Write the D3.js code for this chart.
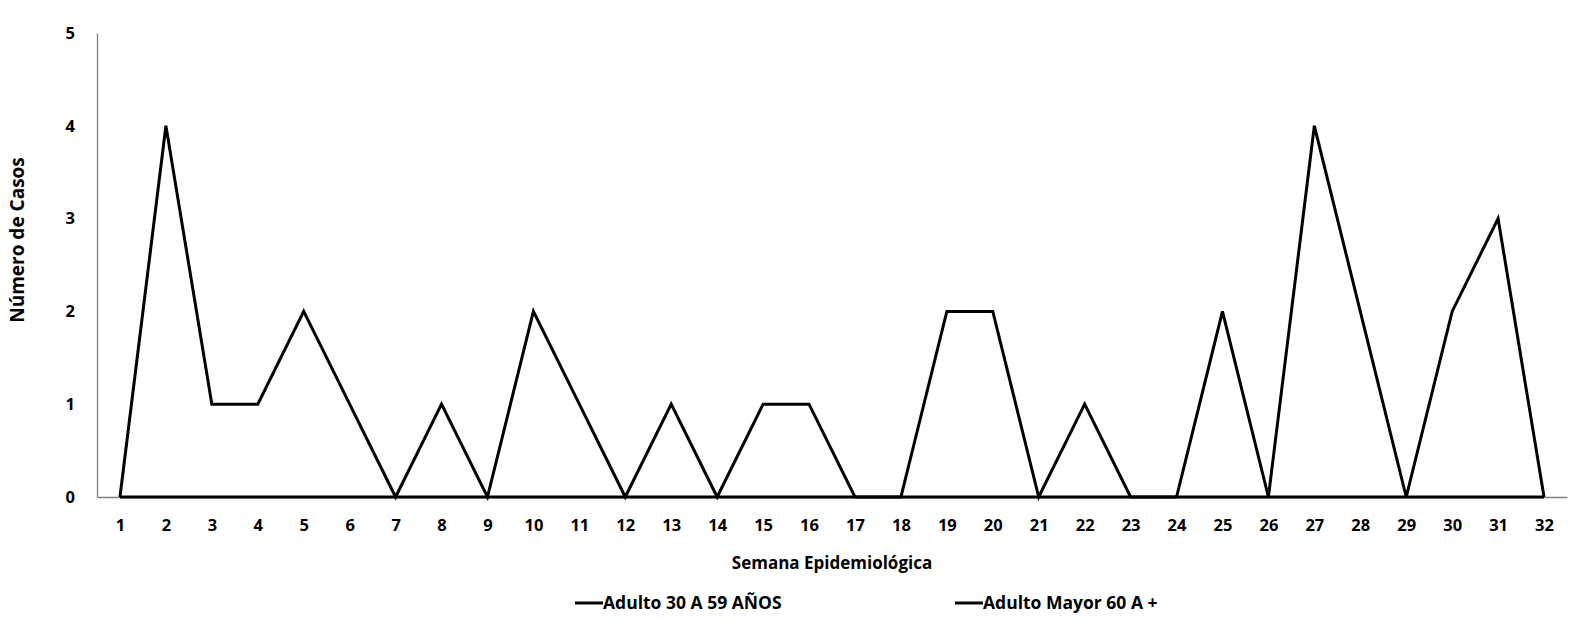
<!DOCTYPE html>
<html>
<head>
<meta charset="utf-8">
<script src="https://cdn.jsdelivr.net/npm/d3@7"></script>
<style>
  body { margin: 0; background: #fff; }
  text { font-family: "Open Sans", sans-serif; font-weight: bold; fill: #000; }
</style>
</head>
<body>
<div id="chart"></div>
<script>
const semanas = d3.range(1, 33);
const adulto30a59 = [0, 4, 1, 1, 2, 1, 0, 1, 0, 2, 1, 0, 1, 0, 1, 1, 0, 0, 2, 2, 0, 1, 0, 0, 2, 0, 4, 2, 0, 2, 3, 0];
const adultoMayor60 = [0, 0, 0, 0, 0, 0, 0, 0, 0, 0, 0, 0, 0, 0, 0, 0, 0, 0, 0, 0, 0, 0, 0, 0, 0, 0, 0, 0, 0, 0, 0, 0];
const yTicks = [0, 1, 2, 3, 4, 5];
const seriesNames = ['Adulto 30 A 59 AÑOS', 'Adulto Mayor 60 A +'];

const width = 1573;
const height = 622;
const margin = { top: 33, bottom: 125, left: 97, right: 6 };

const svg = d3.select('#chart')
    .append('svg')
    .attr('width', width)
    .attr('height', height);

const x = d3.scalePoint()
    .domain(semanas)
    .range([margin.left, width - margin.right])
    .padding(0.5);

const y = d3.scaleLinear()
    .domain([0, 5])
    .range([height - margin.bottom, margin.top]);

// axes
svg.append('g')
    .attr('transform', `translate(0,${y(0)})`)
    .call(d3.axisBottom(x).tickSize(0).tickPadding(22))
    .call(g => g.select('.domain').attr('stroke', '#7f7f7f').attr('stroke-width', 1.3))
    .call(g => g.selectAll('text').attr('font-size', '16.5px'));

svg.append('g')
    .attr('transform', `translate(${margin.left},0)`)
    .call(d3.axisLeft(y).tickValues(yTicks).tickFormat(d3.format('d')).tickSize(0).tickPadding(22))
    .call(g => g.select('.domain').attr('stroke', '#7f7f7f').attr('stroke-width', 1.3))
    .call(g => g.selectAll('text').attr('font-size', '16.5px'));

// lines
const line = d3.line()
    .x((d, i) => x(semanas[i]))
    .y(d => y(d));

[adultoMayor60, adulto30a59].forEach(vals => {
    svg.append('path')
        .datum(vals)
        .attr('fill', 'none')
        .attr('stroke', '#000')
        .attr('stroke-width', 3)
        .attr('stroke-linejoin', 'miter')
        .attr('d', line);
});

// axis titles
svg.append('text')
    .attr('x', 832)
    .attr('y', 569)
    .attr('text-anchor', 'middle')
    .attr('font-size', '17px')
    .text('Semana Epidemiológica');

svg.append('text')
    .attr('transform', 'translate(24,240) rotate(-90)')
    .attr('text-anchor', 'middle')
    .attr('font-size', '19px')
    .text('Número de Casos');

// legend
const legendX = [575, 955];
const legend = svg.append('g')
    .selectAll('g')
    .data(seriesNames)
    .join('g')
    .attr('transform', (d, i) => `translate(${legendX[i]},603)`);

legend.append('line')
    .attr('x1', 0).attr('x2', 28)
    .attr('stroke', '#000')
    .attr('stroke-width', 3);

legend.append('text')
    .attr('x', 28)
    .attr('dy', '0.35em')
    .attr('font-size', '17.5px')
    .text(d => d);
</script>
</body>
</html>
